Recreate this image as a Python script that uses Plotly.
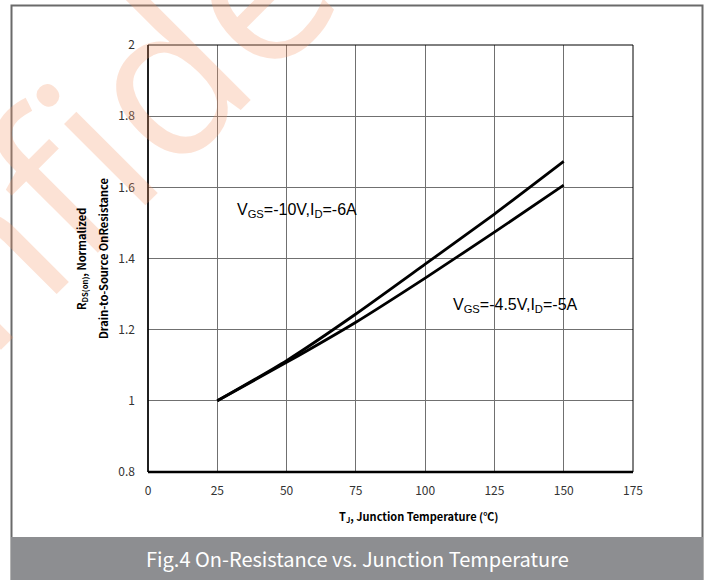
import plotly.graph_objects as go

# ---- data ----
temp_c = [25, 50, 75, 100, 125, 150]
r_vgs_10v = [1.0, 1.113, 1.244, 1.384, 1.525, 1.673]
r_vgs_45v = [1.0, 1.108, 1.221, 1.345, 1.474, 1.606]
x_ticks = [0, 25, 50, 75, 100, 125, 150, 175]
y_ticks = [0.8, 1.0, 1.2, 1.4, 1.6, 1.8, 2.0]
y_tick_text = ["0.8", "1", "1.2", "1.4", "1.6", "1.8", "2"]
label_10v = "V<sub>GS</sub>=-10V,I<sub>D</sub>=-6A"
label_45v = "V<sub>GS</sub>=-4.5V,I<sub>D</sub>=-5A"
x_title = "<b>T<sub>J</sub>, Junction Temperature (℃)</b>"
y_title_1 = "<b>R<sub>DS(on)</sub>, Normalized</b>"
y_title_2 = "<b>Drain-to-Source OnResistance</b>"
caption = "Fig.4 On-Resistance vs. Junction Temperature"
watermark = "Confidential"

# ---- layout geometry (pixels) ----
WIDTH, HEIGHT = 711, 580
L, R, T, B = 148, 633, 45, 472
PW, PH = R - L, B - T


def px(x):
    return (x - L) / PW


def py(y):
    return (B - y) / PH


CJK = "Noto Sans CJK SC"

fig = go.Figure()
fig.add_trace(go.Scatter(x=temp_c, y=r_vgs_10v, mode="lines", line=dict(color="black", width=2.8, shape="spline", smoothing=0.6), showlegend=False))
fig.add_trace(go.Scatter(x=temp_c, y=r_vgs_45v, mode="lines", line=dict(color="black", width=2.8, shape="spline", smoothing=0.6), showlegend=False))

shapes = [
    # outer frame
    dict(type="rect", xref="paper", yref="paper", x0=px(11.5), x1=px(702.5), y0=py(5.5), y1=py(582),
         line=dict(color="#6a6a6a", width=2), layer="below"),
    # caption band
    dict(type="rect", xref="paper", yref="paper", x0=px(11), x1=px(703), y0=py(537), y1=py(582),
         fillcolor="#8d8e91", line=dict(width=0), layer="below"),
    # plot frame
    dict(type="rect", xref="paper", yref="paper", x0=0, x1=1, y0=0, y1=1, line=dict(color="black", width=1)),
    dict(type="line", xref="paper", yref="paper", x0=0, x1=1, y0=0, y1=0, line=dict(color="black", width=2.5)),
    dict(type="line", xref="paper", yref="paper", x0=0, x1=0, y0=0, y1=1, line=dict(color="black", width=1.5)),
]

annotations = [
    dict(text=watermark, xref="paper", yref="paper", x=px(170), y=py(62), xanchor="center", yanchor="middle",
         showarrow=False, textangle=-45,
         font=dict(family="Open Sans", size=215, color="rgba(245,150,105,0.28)")),
    dict(text=label_10v, xref="paper", yref="paper", x=px(235), y=py(210), xanchor="left", yanchor="middle",
         showarrow=False, font=dict(family="Liberation Sans", size=16, color="black")),
    dict(text=label_45v, xref="paper", yref="paper", x=px(451), y=py(305), xanchor="left", yanchor="middle",
         showarrow=False, font=dict(family="Liberation Sans", size=16, color="black")),
    dict(text=x_title, xref="paper", yref="paper", x=px(418), y=py(516), xanchor="center", yanchor="middle",
         showarrow=False, font=dict(family=CJK, size=11, color="black")),
    dict(text=y_title_1, xref="paper", yref="paper", x=px(81), y=py(259), xanchor="center", yanchor="middle",
         textangle=-90, showarrow=False, font=dict(family=CJK, size=11, color="black")),
    dict(text=y_title_2, xref="paper", yref="paper", x=px(103), y=py(259), xanchor="center", yanchor="middle",
         textangle=-90, showarrow=False, font=dict(family=CJK, size=11, color="black")),
    dict(text=caption, xref="paper", yref="paper", x=px(357), y=py(558), xanchor="center", yanchor="middle",
         showarrow=False, font=dict(family=CJK, size=20, color="white")),
]

fig.update_layout(
    width=WIDTH, height=HEIGHT,
    margin=dict(l=L, r=WIDTH - R, t=T, b=HEIGHT - B),
    paper_bgcolor="white", plot_bgcolor="rgba(0,0,0,0)",
    shapes=shapes, annotations=annotations,
    xaxis=dict(range=[0, 175], tickvals=x_ticks, showgrid=True, gridcolor="#707070", gridwidth=1,
               zeroline=False, showline=False, ticks="", ticklabelstandoff=10,
               tickfont=dict(family=CJK, size=12, color="#333")),
    yaxis=dict(range=[0.8, 2.0], tickvals=y_ticks, ticktext=y_tick_text, showgrid=True, gridcolor="#707070",
               gridwidth=1, zeroline=False, showline=False, ticks="", ticklabelstandoff=12,
               tickfont=dict(family=CJK, size=12, color="#333")),
)

fig.write_html("out.html", config={"displayModeBar": False})
